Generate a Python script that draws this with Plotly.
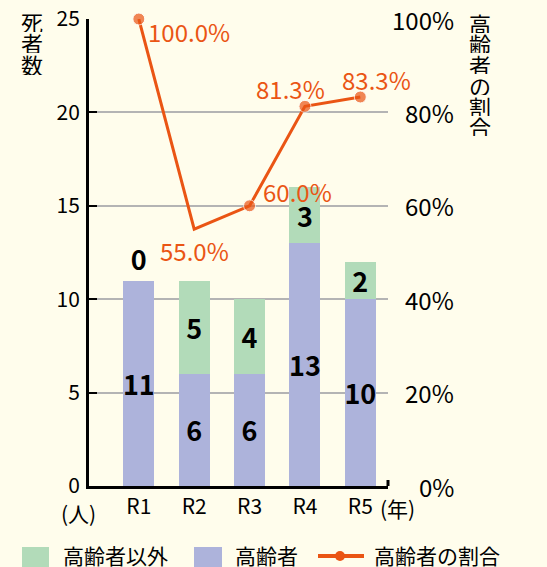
import plotly.graph_objects as go

# ---- data ----
years = ["R1", "R2", "R3", "R4", "R5"]
elderly = [11, 6, 6, 13, 10]          # 高齢者
non_elderly = [0, 5, 4, 3, 2]         # 高齢者以外
ratio = [100.0, 55.0, 60.0, 81.3, 83.3]  # 高齢者の割合 (%)
left_ticks = [0, 5, 10, 15, 20, 25]
right_ticks = [0, 20, 40, 60, 80, 100]

# ---- styles ----
BG = "#fffdec"
GREEN = "#b2dbb9"
LAV = "#adb3db"
ORANGE = "#ea5514"
FONT = "Noto Sans CJK JP, Noto Sans, sans-serif"

W, H = 547, 567
L, R, T, B = 89, 388, 19, 486  # plot area in pixels


def px(x):
    return (x - L) / (R - L)


def py(y):
    return (B - y) / (B - T)


fig = go.Figure()

fig.add_trace(go.Bar(
    x=years, y=elderly, name="高齢者", marker=dict(color=LAV, line=dict(width=0)),
    text=[str(v) for v in elderly], textposition="inside", insidetextanchor="middle",
    textfont=dict(family=FONT, size=27, color="black", weight="bold"),
    constraintext="none", width=0.56, showlegend=False,
))
fig.add_trace(go.Bar(
    x=years, y=non_elderly, name="高齢者以外", marker=dict(color=GREEN, line=dict(width=0)),
    text=[str(v) for v in non_elderly],
    textposition=["outside" if v == 0 else "inside" for v in non_elderly],
    insidetextanchor="middle",
    textfont=dict(family=FONT, size=27, color="black", weight="bold"),
    constraintext="none", width=0.56, showlegend=False, cliponaxis=False,
))
fig.add_trace(go.Scatter(
    x=years, y=ratio, yaxis="y2", mode="lines+markers", name="高齢者の割合",
    line=dict(color=ORANGE, width=3),
    marker=dict(color=ORANGE, size=[12, 0, 12, 12, 12]),
    cliponaxis=False, showlegend=False,
))

# ratio labels
offsets = [(50, -12), (0, -21), (48, 14), (-14, 18), (16, 17)]
annotations = []
for i, (yr, v) in enumerate(zip(years, ratio)):
    dx, dy = offsets[i]
    annotations.append(dict(
        x=yr, y=v, xref="x", yref="y2", text=f"{v:.1f}%", showarrow=False,
        xanchor="center", yanchor="middle",
        xshift=dx, yshift=dy, font=dict(family=FONT, size=24, color=ORANGE),
    ))

# right axis tick labels (right aligned)
for t in right_ticks:
    annotations.append(dict(
        x=px(456), y=t, xref="paper", yref="y2", text=f"{t}%", showarrow=False,
        xanchor="right", yanchor="middle", font=dict(family=FONT, size=24, color="black"),
    ))

# axis titles (vertical, one char per line)
for i, ch in enumerate("死者数"):
    annotations.append(dict(
        x=px(32), y=py(21 + i * 21.3), xref="paper", yref="paper", text=ch,
        showarrow=False, xanchor="center", yanchor="middle", height=22, width=30,
        font=dict(family=FONT, size=22, color="black"),
    ))
for i, ch in enumerate("高齢者の割合"):
    annotations.append(dict(
        x=px(480), y=py(22 + i * 20.8), xref="paper", yref="paper", text=ch,
        showarrow=False, xanchor="center", yanchor="middle", height=21, width=30,
        font=dict(family=FONT, size=22, color="black"),
    ))

# unit labels
annotations.append(dict(x=px(78), y=py(513), xref="paper", yref="paper", text="(人)",
                        showarrow=False, xanchor="center", yanchor="middle",
                        font=dict(family=FONT, size=21, color="black")))
annotations.append(dict(x=px(397), y=py(508), xref="paper", yref="paper", text="(年)",
                        showarrow=False, xanchor="center", yanchor="middle",
                        font=dict(family=FONT, size=21, color="black")))

# manual legend
shapes = []
shapes.append(dict(type="rect", xref="paper", yref="paper", x0=px(22), x1=px(49),
                   y0=py(567), y1=py(547), fillcolor=GREEN, line=dict(width=0)))
shapes.append(dict(type="rect", xref="paper", yref="paper", x0=px(194), x1=px(222),
                   y0=py(567), y1=py(547), fillcolor=LAV, line=dict(width=0)))
shapes.append(dict(type="line", xref="paper", yref="paper", x0=px(318), x1=px(364),
                   y0=py(556), y1=py(556), line=dict(color=ORANGE, width=4)))
shapes.append(dict(type="circle", xref="paper", yref="paper", x0=px(335), x1=px(345),
                   y0=py(561), y1=py(551), fillcolor=ORANGE, line=dict(width=0)))
# small upward tick at right end of x axis
shapes.append(dict(type="line", xref="paper", yref="paper", x0=1, x1=1,
                   y0=0, y1=py(480), line=dict(color="black", width=3)))

for xx, txt in [(61, "高齢者以外"), (233, "高齢者"), (372, "高齢者の割合")]:
    annotations.append(dict(x=px(xx), y=py(555), xref="paper", yref="paper", text=txt,
                            showarrow=False, xanchor="left", yanchor="middle",
                            font=dict(family=FONT, size=21, color="black")))

fig.update_layout(
    width=W, height=H,
    margin=dict(l=L, r=W - R, t=T, b=H - B, pad=0, autoexpand=False),
    paper_bgcolor=BG, plot_bgcolor=BG,
    barmode="stack", bargap=0.44,
    font=dict(family=FONT, size=21, color="black"),
    showlegend=False,
    xaxis=dict(
        type="category", range=[-0.9, 4.5], showline=True, linecolor="black", linewidth=3,
        ticks="", showgrid=False, tickfont=dict(family=FONT, size=21, color="black"),
        fixedrange=True, zeroline=False, automargin=False,
    ),
    yaxis=dict(
        range=[0, 25], tickvals=left_ticks, showline=True, linecolor="black", linewidth=3,
        ticks="inside", ticklen=8, tickwidth=2, tickcolor="black",
        showgrid=True, gridcolor="#b4b4b4", gridwidth=2, zeroline=False,
        tickfont=dict(family=FONT, size=21, color="black"), ticklabelstandoff=2,
        automargin=False,
    ),
    yaxis2=dict(
        range=[0, 100], overlaying="y", side="right", showgrid=False, showline=False,
        showticklabels=False, ticks="", zeroline=False, automargin=False,
    ),
    annotations=annotations,
    shapes=shapes,
)

fig.write_html(
    "out.html",
    config={"displayModeBar": False},
    post_script="document.body.style.margin='0';document.body.style.overflow='hidden';"
                "document.documentElement.style.overflow='hidden';",
)
